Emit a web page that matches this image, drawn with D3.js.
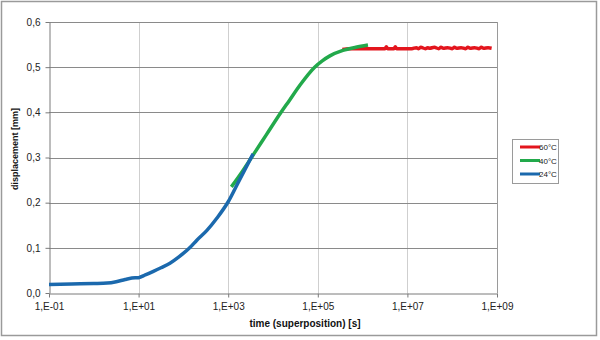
<!DOCTYPE html>
<html>
<head>
<meta charset="utf-8">
<script src="https://cdn.jsdelivr.net/npm/d3@7"></script>
<style>
  html, body { margin: 0; padding: 0; background: #fff; }
  svg { display: block; font-family: "Liberation Sans", Arial, sans-serif; }
</style>
</head>
<body>
<svg id="chart" width="600" height="340"></svg>
<script>
// Creep curves, time-temperature superposition (log10 of time in s, displacement in mm)
const logT24 = [-1, -0.5, 0, 0.3, 0.5, 0.7, 0.85, 1.0, 1.15, 1.33, 1.5, 1.7, 1.9, 2.14, 2.3, 2.52, 2.75, 3.0, 3.25, 3.555];
const disp24 = [0.019, 0.020, 0.021, 0.022, 0.025, 0.030, 0.033, 0.034, 0.040, 0.048, 0.056, 0.066, 0.080, 0.100, 0.117, 0.138, 0.166, 0.202, 0.250, 0.308];

const logT40 = [3.07, 3.3, 3.52, 3.85, 4.18, 4.37, 4.6, 4.93, 5.1, 5.27, 5.56, 5.85, 6.12];
const disp40 = [0.235, 0.267, 0.300, 0.350, 0.400, 0.427, 0.460, 0.500, 0.514, 0.525, 0.537, 0.544, 0.549];

const logT60 = [5.55, 5.7, 6.0, 6.4, 6.5, 6.53, 6.56, 6.6, 6.7, 6.73, 6.76, 6.9, 7.1, 7.2, 7.25, 7.3, 7.4, 7.45, 7.5, 7.6, 7.7, 7.75, 7.8, 7.9, 8.0, 8.05, 8.1, 8.2, 8.3, 8.35, 8.4, 8.5, 8.6, 8.65, 8.7, 8.8, 8.88];
const disp60 = [0.539, 0.541, 0.541, 0.541, 0.541, 0.545, 0.541, 0.541, 0.541, 0.545, 0.541, 0.541, 0.541, 0.543, 0.541, 0.544, 0.541, 0.543, 0.542, 0.544, 0.541, 0.544, 0.542, 0.543, 0.541, 0.544, 0.542, 0.543, 0.541, 0.544, 0.542, 0.543, 0.541, 0.544, 0.542, 0.543, 0.542];

const xTicks = [1e-1, 1e1, 1e3, 1e5, 1e7, 1e9];
const yTicks = [0, 0.1, 0.2, 0.3, 0.4, 0.5, 0.6];

const seriesNames = ["60°C", "40°C", "24°C"];
const seriesColors = ["#e3151d", "#22a94b", "#1b69ad"];

// drawn back to front: 60°C, 40°C, 24°C
const series = [
  { name: seriesNames[0], color: seriesColors[0], t: logT60, d: disp60 },
  { name: seriesNames[1], color: seriesColors[1], t: logT40, d: disp40 },
  { name: seriesNames[2], color: seriesColors[2], t: logT24, d: disp24 }
];

const svg = d3.select("#chart");
const m = { left: 49, right: 497, top: 22, bottom: 293 };

// chart frame
svg.append("rect").attr("x", 1.5).attr("y", 1.5).attr("width", 595).attr("height", 334)
  .attr("fill", "#fff").attr("stroke", "#9a9a9a").attr("stroke-width", 1.5);

const x = d3.scaleLog().domain([1e-1, 1e9]).range([m.left, m.right]);
const y = d3.scaleLinear().domain([0, 0.6]).range([m.bottom, m.top]);

const fmtX = v => {
  const e = Math.round(Math.log10(v));
  return "1,E" + (e < 0 ? "-" : "+") + String(Math.abs(e)).padStart(2, "0");
};
const fmtY = v => d3.format(".1f")(v).replace(".", ",");

// grid
const grid = svg.append("g");
grid.selectAll(".vg").data(xTicks.slice(1, -1)).join("line")
  .attr("x1", d => Math.round(x(d)) + 0.5).attr("x2", d => Math.round(x(d)) + 0.5)
  .attr("y1", m.top).attr("y2", m.bottom)
  .attr("stroke", "#cfcfcf").attr("stroke-width", 1);
grid.selectAll(".hg").data(yTicks.slice(1)).join("line")
  .attr("x1", m.left).attr("x2", m.right)
  .attr("y1", d => Math.round(y(d)) + 0.5).attr("y2", d => Math.round(y(d)) + 0.5)
  .attr("stroke", "#8a8a8a").attr("stroke-width", 1);
// right plot border
svg.append("line").attr("x1", m.right + 0.5).attr("x2", m.right + 0.5)
  .attr("y1", m.top).attr("y2", m.bottom).attr("stroke", "#9a9a9a");

// axes
const xAxis = svg.append("g").attr("transform", `translate(0,${m.bottom + 0.5})`)
  .call(d3.axisBottom(x).tickValues(xTicks).tickFormat(fmtX).tickSize(4).tickSizeOuter(0));
const yAxis = svg.append("g").attr("transform", `translate(${m.left + 0.5},0)`)
  .call(d3.axisLeft(y).tickValues(yTicks).tickFormat(fmtY).tickSize(4).tickSizeOuter(0));
[xAxis, yAxis].forEach(a => {
  a.select(".domain").attr("stroke", "#7a7a7a");
  a.selectAll(".tick line").attr("stroke", "#7a7a7a");
  a.selectAll("text").attr("font-size", 10).attr("fill", "#222")
    .attr("font-family", "Liberation Sans, Arial, sans-serif");
});
xAxis.selectAll("text").attr("dy", "0.95em");
yAxis.selectAll("text").attr("dx", "-2");

// curves
const line = d3.line().x(p => x(Math.pow(10, p[0]))).y(p => y(p[1])).curve(d3.curveMonotoneX);
series.forEach(s => {
  svg.append("path")
    .datum(s.t.map((t, i) => [t, s.d[i]]))
    .attr("d", line).attr("fill", "none")
    .attr("stroke", s.color).attr("stroke-width", 3.5)
    .attr("stroke-linejoin", "round").attr("stroke-linecap", "butt");
});

// axis titles
svg.append("text").attr("x", 305).attr("y", 327).attr("text-anchor", "middle")
  .attr("font-size", 10).attr("font-weight", "bold").attr("fill", "#111")
  .text("time (superposition) [s]");
svg.append("text").attr("transform", "translate(18,149) rotate(-90)").attr("text-anchor", "middle")
  .attr("font-size", 9).attr("font-weight", "bold").attr("fill", "#111")
  .text("displacement [mm]");

// legend
const lg = svg.append("g");
lg.append("rect").attr("x", 512.5).attr("y", 139.5).attr("width", 46).attr("height", 44)
  .attr("fill", "#fff").attr("stroke", "#9a9a9a");
seriesNames.forEach((n, i) => {
  const yy = 147 + i * 13.5;
  lg.append("line").attr("x1", 520).attr("x2", 540).attr("y1", yy).attr("y2", yy)
    .attr("stroke", seriesColors[i]).attr("stroke-width", 3);
  lg.append("text").attr("x", 539).attr("y", yy + 3).attr("font-size", 8).attr("fill", "#222")
    .text(n);
});
</script>
</body>
</html>
